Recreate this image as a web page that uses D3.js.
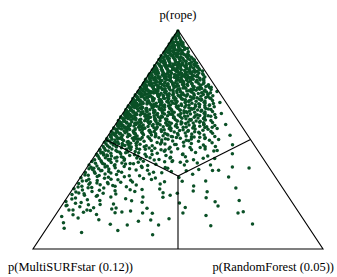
<!DOCTYPE html>
<html>
<head>
<meta charset="utf-8">
<script src="https://cdn.jsdelivr.net/npm/d3@7"></script>
<style>
  body { margin: 0; background: #fff; }
  text { font-family: "Liberation Serif", "DejaVu Serif", serif; font-size: 12.5px; fill: #000; }
</style>
</head>
<body>
<div id="chart"></div>
<script>
var svgWidth = 337;
var svgHeight = 277;

// corner names and probabilities shown in the labels
var ropeName = "p(rope)";
var modelNames = ["MultiSURFstar", "RandomForest"];
var modelProbs = [0.12, 0.05];

// posterior samples as [p(rope), p(RandomForest)]; p(MultiSURFstar) = 1 - both
var samples = [
  [0.995,0.002],[0.988,0.004],[0.982,0.010],[0.976,0.003],[0.971,0.017],[0.968,0.008],[0.962,0.025],[0.958,0.014],[0.955,0.002],[0.952,0.033],[0.979,0.012],[0.964,0.001],
  [0.948,0.004],[0.946,0.021],[0.944,0.040],[0.941,0.011],[0.939,0.030],[0.936,0.002],[0.934,0.050],[0.931,0.018],[0.928,0.037],[0.926,0.007],[0.923,0.058],[0.921,0.026],[0.918,0.045],[0.916,0.013],[0.913,0.003],[0.911,0.067],[0.908,0.034],[0.906,0.020],[0.904,0.052],[0.902,0.008],[0.943,0.028],[0.925,0.016],[0.915,0.075],[0.909,0.042],
  [0.898,0.003],[0.896,0.019],[0.894,0.041],[0.892,0.063],[0.890,0.010],[0.888,0.030],[0.886,0.082],[0.884,0.052],[0.882,0.001],[0.880,0.024],[0.878,0.044],[0.876,0.095],[0.874,0.013],[0.872,0.070],[0.870,0.035],[0.868,0.005],[0.866,0.056],[0.864,0.109],[0.862,0.022],[0.860,0.078],[0.858,0.040],[0.857,0.011],[0.855,0.064],[0.853,0.120],[0.852,0.030],[0.851,0.090],[0.893,0.026],[0.883,0.015],[0.873,0.048],[0.865,0.002],[0.859,0.018],[0.877,0.060],[0.889,0.075],[0.869,0.100],
  [0.849,0.004],[0.848,0.027],[0.846,0.050],[0.845,0.082],[0.843,0.013],[0.842,0.036],[0.840,0.066],[0.838,0.110],[0.837,0.001],[0.835,0.021],[0.834,0.057],[0.832,0.093],[0.830,0.008],[0.829,0.044],[0.827,0.140],[0.826,0.030],[0.824,0.073],[0.822,0.016],[0.821,0.052],[0.819,0.102],[0.817,0.003],[0.816,0.038],[0.814,0.085],[0.812,0.160],[0.811,0.024],[0.809,0.061],[0.808,0.010],[0.806,0.046],[0.805,0.124],[0.803,0.031],[0.802,0.077],[0.801,0.006],[0.844,0.120],[0.836,0.003],[0.828,0.067],[0.818,0.018],[0.813,0.133],[0.807,0.095],[0.833,0.041],[0.823,0.006],[0.815,0.059],[0.804,0.170],
  [0.799,0.002],[0.798,0.025],[0.796,0.048],[0.795,0.071],[0.793,0.014],[0.792,0.100],[0.790,0.036],[0.789,0.058],[0.787,0.006],[0.786,0.130],[0.784,0.029],[0.783,0.083],[0.781,0.017],[0.780,0.045],[0.778,0.160],[0.777,0.066],[0.775,0.001],[0.774,0.035],[0.772,0.112],[0.771,0.054],[0.769,0.020],[0.768,0.090],[0.766,0.008],[0.765,0.042],[0.763,0.185],[0.762,0.074],[0.760,0.027],[0.759,0.140],[0.757,0.003],[0.756,0.060],[0.754,0.033],[0.753,0.105],[0.751,0.012],[0.750,0.050],[0.797,0.090],[0.791,0.003],[0.785,0.046],[0.779,0.012],[0.773,0.075],[0.767,0.022],[0.761,0.004],[0.755,0.088],[0.788,0.170],[0.776,0.200],[0.764,0.125],[0.752,0.155],[0.782,0.062],[0.770,0.038],
  [0.749,0.005],[0.748,0.030],[0.746,0.058],[0.745,0.090],[0.743,0.015],[0.742,0.120],[0.740,0.041],[0.739,0.072],[0.737,0.002],[0.736,0.155],[0.734,0.024],[0.733,0.103],[0.731,0.050],[0.730,0.010],[0.728,0.082],[0.727,0.190],[0.725,0.035],[0.724,0.064],[0.722,0.018],[0.721,0.135],[0.719,0.046],[0.718,0.003],[0.716,0.096],[0.715,0.028],[0.713,0.225],[0.712,0.060],[0.710,0.012],[0.709,0.115],[0.707,0.040],[0.706,0.078],[0.704,0.001],[0.703,0.170],[0.701,0.022],[0.700,0.055],[0.747,0.008],[0.741,0.205],[0.735,0.063],[0.729,0.028],[0.723,0.004],[0.717,0.150],[0.711,0.086],[0.705,0.033],[0.744,0.044],[0.738,0.020],[0.732,0.140],[0.726,0.110],[0.720,0.070],[0.714,0.007],[0.708,0.250],[0.702,0.098],[0.726,0.012],[0.714,0.050],[0.739,0.245],[0.703,0.130],[0.719,0.185],
  [0.699,0.003],[0.698,0.027],[0.696,0.052],[0.695,0.085],[0.693,0.013],[0.692,0.118],[0.690,0.038],[0.689,0.067],[0.687,0.001],[0.686,0.150],[0.684,0.021],[0.683,0.098],[0.681,0.046],[0.680,0.008],[0.678,0.076],[0.677,0.200],[0.675,0.031],[0.674,0.058],[0.672,0.016],[0.671,0.130],[0.669,0.043],[0.668,0.004],[0.666,0.092],[0.665,0.025],[0.663,0.240],[0.662,0.062],[0.660,0.011],[0.659,0.110],[0.657,0.036],[0.656,0.080],[0.654,0.002],[0.653,0.175],[0.651,0.019],[0.650,0.050],[0.697,0.010],[0.691,0.220],[0.685,0.070],[0.679,0.030],[0.673,0.006],[0.667,0.160],[0.661,0.088],[0.655,0.033],[0.694,0.045],[0.688,0.018],[0.682,0.125],[0.676,0.105],[0.670,0.065],[0.664,0.009],[0.658,0.280],[0.652,0.100],[0.676,0.014],[0.664,0.048],[0.689,0.265],[0.653,0.140],[0.669,0.190],[0.681,0.005],[0.657,0.023],[0.695,0.160],
  [0.649,0.004],[0.648,0.029],[0.646,0.055],[0.645,0.088],[0.643,0.014],[0.642,0.122],[0.640,0.040],[0.639,0.070],[0.637,0.002],[0.636,0.160],[0.634,0.023],[0.633,0.101],[0.631,0.048],[0.630,0.009],[0.628,0.079],[0.627,0.215],[0.625,0.033],[0.624,0.061],[0.622,0.017],[0.621,0.137],[0.619,0.045],[0.618,0.005],[0.616,0.094],[0.615,0.027],[0.613,0.260],[0.612,0.064],[0.610,0.012],[0.609,0.113],[0.607,0.038],[0.606,0.083],[0.604,0.001],[0.603,0.185],[0.601,0.020],[0.600,0.052],[0.647,0.011],[0.641,0.235],[0.635,0.073],[0.629,0.031],[0.623,0.007],[0.617,0.170],[0.611,0.090],[0.605,0.035],[0.644,0.047],[0.638,0.019],[0.632,0.128],[0.626,0.107],[0.620,0.067],[0.614,0.010],[0.608,0.300],[0.602,0.104],[0.626,0.015],[0.614,0.051],[0.639,0.285],[0.603,0.145],[0.619,0.200],[0.631,0.006],[0.607,0.024],[0.645,0.175],
  [0.599,0.003],[0.598,0.030],[0.596,0.057],[0.595,0.092],[0.593,0.015],[0.592,0.126],[0.590,0.042],[0.589,0.073],[0.587,0.001],[0.586,0.168],[0.584,0.024],[0.583,0.105],[0.581,0.050],[0.580,0.010],[0.578,0.082],[0.577,0.225],[0.575,0.035],[0.574,0.064],[0.572,0.018],[0.571,0.142],[0.569,0.047],[0.568,0.006],[0.566,0.097],[0.565,0.028],[0.563,0.275],[0.562,0.067],[0.560,0.013],[0.559,0.117],[0.557,0.040],[0.556,0.086],[0.554,0.002],[0.553,0.195],[0.551,0.021],[0.550,0.055],[0.597,0.012],[0.591,0.250],[0.585,0.076],[0.579,0.033],[0.573,0.008],[0.567,0.180],[0.561,0.093],[0.555,0.037],[0.594,0.049],[0.588,0.020],[0.582,0.133],[0.576,0.111],[0.570,0.070],[0.564,0.011],[0.558,0.320],[0.552,0.108],[0.576,0.016],[0.564,0.053],[0.589,0.300],[0.553,0.150],[0.569,0.210],[0.581,0.007],
  [0.549,0.004],[0.548,0.031],[0.546,0.060],[0.545,0.096],[0.543,0.016],[0.542,0.131],[0.540,0.044],[0.539,0.076],[0.537,0.002],[0.536,0.175],[0.534,0.025],[0.533,0.109],[0.531,0.052],[0.530,0.011],[0.528,0.085],[0.527,0.235],[0.525,0.037],[0.524,0.067],[0.522,0.019],[0.521,0.148],[0.519,0.049],[0.518,0.007],[0.516,0.101],[0.515,0.029],[0.513,0.290],[0.512,0.070],[0.510,0.014],[0.509,0.122],[0.507,0.042],[0.506,0.090],[0.504,0.003],[0.503,0.205],[0.501,0.022],[0.500,0.058],[0.547,0.013],[0.541,0.265],[0.535,0.079],[0.529,0.034],[0.523,0.009],[0.517,0.190],[0.511,0.097],[0.505,0.039],[0.544,0.051],[0.538,0.021],[0.532,0.138],[0.526,0.116],[0.520,0.073],[0.514,0.012],[0.508,0.340],[0.502,0.113],[0.526,0.160],[0.514,0.220],
  [0.499,0.005],[0.498,0.034],[0.496,0.064],[0.495,0.100],[0.493,0.018],[0.492,0.137],[0.490,0.047],[0.489,0.080],[0.487,0.003],[0.486,0.185],[0.484,0.027],[0.483,0.114],[0.481,0.055],[0.480,0.012],[0.478,0.089],[0.477,0.250],[0.475,0.039],[0.474,0.071],[0.472,0.021],[0.471,0.155],[0.469,0.052],[0.468,0.008],[0.466,0.106],[0.465,0.031],[0.463,0.310],[0.462,0.074],[0.460,0.016],[0.459,0.128],[0.457,0.044],[0.456,0.094],[0.454,0.004],[0.453,0.215],[0.451,0.024],[0.450,0.061],[0.497,0.280],[0.491,0.083],[0.485,0.036],[0.479,0.200],[0.473,0.120],[0.467,0.360],[0.461,0.170],[0.455,0.140],[0.494,0.010],[0.482,0.067],[0.470,0.097],[0.458,0.240],
  [0.449,0.006],[0.447,0.036],[0.445,0.068],[0.443,0.105],[0.441,0.019],[0.439,0.145],[0.437,0.050],[0.435,0.085],[0.433,0.003],[0.431,0.195],[0.429,0.029],[0.427,0.120],[0.425,0.058],[0.423,0.013],[0.421,0.094],[0.419,0.265],[0.417,0.041],[0.415,0.075],[0.413,0.022],[0.411,0.165],[0.409,0.055],[0.407,0.009],[0.405,0.112],[0.403,0.033],[0.401,0.330],[0.446,0.230],[0.442,0.078],[0.438,0.015],[0.434,0.300],[0.430,0.135],[0.426,0.044],[0.422,0.180],[0.418,0.102],[0.414,0.380],[0.410,0.062],[0.406,0.215],[0.402,0.088],[0.428,0.007],[0.416,0.150],[0.436,0.025],
  [0.399,0.004],[0.397,0.038],[0.395,0.072],[0.393,0.110],[0.391,0.020],[0.389,0.152],[0.387,0.053],[0.385,0.090],[0.383,0.002],[0.381,0.205],[0.379,0.031],[0.377,0.126],[0.375,0.061],[0.373,0.014],[0.371,0.098],[0.369,0.280],[0.367,0.043],[0.365,0.079],[0.363,0.024],[0.361,0.175],[0.359,0.058],[0.357,0.350],[0.355,0.117],[0.353,0.035],[0.351,0.240],[0.396,0.310],[0.390,0.140],[0.384,0.420],[0.378,0.067],[0.372,0.190],[0.366,0.010],[0.360,0.460],[0.354,0.084],[0.398,0.255],
  [0.349,0.006],[0.346,0.041],[0.343,0.077],[0.340,0.118],[0.337,0.022],[0.334,0.165],[0.331,0.056],[0.328,0.096],[0.325,0.003],[0.322,0.220],[0.319,0.033],[0.316,0.135],[0.313,0.065],[0.310,0.015],[0.307,0.300],[0.304,0.105],[0.302,0.046],[0.348,0.270],[0.341,0.380],[0.335,0.200],[0.329,0.510],[0.323,0.085],[0.317,0.250],[0.311,0.440],[0.305,0.150],[0.338,0.010],[0.326,0.340],[0.314,0.180],
  [0.299,0.008],[0.296,0.045],[0.293,0.085],[0.290,0.130],[0.287,0.025],[0.284,0.180],[0.281,0.062],[0.278,0.105],[0.275,0.004],[0.272,0.240],[0.269,0.036],[0.266,0.150],[0.263,0.072],[0.260,0.018],[0.257,0.320],[0.254,0.115],[0.252,0.050],[0.297,0.290],[0.288,0.410],[0.279,0.560],[0.270,0.200],[0.261,0.470],[0.255,0.370],[0.283,0.014],
  [0.249,0.010],[0.245,0.055],[0.241,0.098],[0.237,0.150],[0.233,0.030],[0.229,0.205],[0.225,0.075],[0.221,0.120],[0.217,0.005],[0.213,0.270],[0.209,0.042],[0.205,0.175],[0.202,0.090],[0.246,0.350],[0.234,0.480],[0.222,0.600],[0.210,0.400],[0.238,0.260],
  [0.198,0.015],[0.193,0.065],[0.188,0.115],[0.183,0.180],[0.178,0.035],[0.173,0.250],[0.168,0.090],[0.163,0.330],[0.158,0.140],[0.153,0.520],[0.190,0.430],[0.170,0.640],
  [0.148,0.025],[0.141,0.085],[0.134,0.160],[0.127,0.300],[0.120,0.045],[0.113,0.210],[0.106,0.560],[0.138,0.400],
  [0.095,0.060],[0.085,0.250],[0.075,0.130],[0.065,0.380],
  [0.901,0.085],[0.905,0.062],[0.910,0.054],[0.914,0.031],[0.919,0.064],[0.922,0.041],[0.927,0.050],[0.932,0.033],[0.937,0.015],[0.942,0.046],
  [0.851,0.135],[0.853,0.045],[0.856,0.100],[0.858,0.127],[0.861,0.060],[0.863,0.088],[0.866,0.033],[0.868,0.118],[0.871,0.081],[0.873,0.025],[0.876,0.108],[0.878,0.071],[0.881,0.054],[0.883,0.096],[0.886,0.039],[0.888,0.055],[0.891,0.088],[0.893,0.070],[0.896,0.050],[0.899,0.034],
  [0.800,0.185],[0.802,0.112],[0.803,0.140],[0.805,0.063],[0.807,0.155],[0.808,0.128],[0.810,0.090],[0.812,0.040],[0.813,0.178],[0.815,0.115],[0.817,0.148],[0.818,0.072],[0.820,0.130],[0.822,0.098],[0.824,0.160],[0.825,0.050],[0.827,0.118],[0.829,0.085],[0.831,0.150],[0.832,0.065],[0.834,0.128],[0.836,0.105],[0.838,0.140],[0.839,0.078],[0.841,0.095],[0.843,0.133],[0.845,0.060],[0.846,0.105],[0.848,0.140],[0.849,0.075],
  [0.750,0.230],[0.751,0.140],[0.752,0.088],[0.754,0.195],[0.755,0.120],[0.756,0.170],[0.758,0.075],[0.759,0.210],[0.760,0.100],[0.762,0.155],[0.763,0.058],[0.764,0.180],[0.766,0.135],[0.767,0.110],[0.768,0.205],[0.770,0.145],[0.771,0.085],[0.772,0.190],[0.774,0.125],[0.775,0.165],[0.776,0.070],[0.778,0.140],[0.779,0.105],[0.780,0.185],[0.782,0.120],[0.783,0.150],[0.784,0.095],[0.786,0.175],[0.787,0.065],[0.788,0.140],[0.790,0.118],[0.791,0.160],[0.792,0.078],[0.794,0.135],[0.795,0.190],[0.796,0.115],[0.797,0.150],[0.798,0.060],[0.799,0.125],[0.785,0.200],
  [0.700,0.270],[0.701,0.150],[0.702,0.205],[0.704,0.110],[0.705,0.235],[0.706,0.180],[0.708,0.130],[0.709,0.075],[0.710,0.215],[0.712,0.160],[0.713,0.100],[0.714,0.255],[0.716,0.190],[0.717,0.125],[0.718,0.055],[0.720,0.230],[0.721,0.170],[0.722,0.095],[0.724,0.145],[0.725,0.200],[0.726,0.068],[0.728,0.250],[0.729,0.135],[0.730,0.180],[0.732,0.090],[0.733,0.215],[0.734,0.160],[0.736,0.118],[0.737,0.240],[0.738,0.185],[0.740,0.100],[0.741,0.150],[0.742,0.225],[0.744,0.130],[0.745,0.178],[0.746,0.080],[0.748,0.205],[0.749,0.145],[0.703,0.085],[0.711,0.045],[0.719,0.275],[0.727,0.025],[0.735,0.200],[0.743,0.060],[0.747,0.110],
  [0.650,0.300],[0.651,0.170],[0.652,0.235],[0.654,0.120],[0.655,0.265],[0.656,0.200],[0.658,0.145],[0.659,0.080],[0.660,0.245],[0.662,0.180],[0.663,0.110],[0.664,0.290],[0.666,0.215],[0.667,0.135],[0.668,0.060],[0.670,0.255],[0.671,0.190],[0.672,0.100],[0.674,0.160],[0.675,0.225],[0.676,0.075],[0.678,0.280],[0.679,0.150],[0.680,0.205],[0.682,0.095],[0.683,0.240],[0.684,0.175],[0.686,0.125],[0.687,0.270],[0.688,0.210],[0.690,0.105],[0.691,0.165],[0.692,0.250],[0.694,0.140],[0.695,0.195],[0.696,0.085],[0.698,0.230],[0.699,0.155],[0.653,0.090],[0.661,0.040],[0.669,0.310],[0.677,0.030],[0.685,0.230],[0.693,0.065],[0.697,0.120],[0.657,0.210],[0.665,0.150],[0.673,0.125],[0.681,0.185],[0.689,0.140],
  [0.600,0.330],[0.601,0.185],[0.602,0.255],[0.604,0.130],[0.605,0.290],[0.606,0.220],[0.608,0.160],[0.609,0.085],[0.610,0.270],[0.612,0.195],[0.613,0.120],[0.614,0.320],[0.616,0.235],[0.617,0.145],[0.618,0.065],[0.620,0.280],[0.621,0.210],[0.622,0.105],[0.624,0.175],[0.625,0.245],[0.626,0.080],[0.628,0.305],[0.629,0.165],[0.630,0.225],[0.632,0.100],[0.633,0.265],[0.634,0.190],[0.636,0.135],[0.637,0.295],[0.638,0.230],[0.640,0.115],[0.641,0.180],[0.642,0.275],[0.644,0.150],[0.645,0.215],[0.646,0.090],[0.648,0.250],[0.649,0.170],[0.603,0.095],[0.611,0.045],[0.619,0.340],[0.627,0.032],[0.635,0.250],[0.643,0.070],[0.647,0.130],[0.607,0.230],[0.615,0.165],[0.623,0.135],[0.631,0.205],[0.639,0.155],
  [0.550,0.360],[0.551,0.200],[0.552,0.275],[0.554,0.140],[0.555,0.315],[0.556,0.240],[0.558,0.170],[0.559,0.090],[0.560,0.295],[0.562,0.210],[0.563,0.130],[0.564,0.345],[0.566,0.255],[0.567,0.155],[0.568,0.070],[0.570,0.305],[0.571,0.225],[0.572,0.115],[0.574,0.190],[0.575,0.265],[0.576,0.085],[0.578,0.330],[0.579,0.180],[0.580,0.245],[0.582,0.105],[0.583,0.285],[0.584,0.205],[0.586,0.145],[0.587,0.320],[0.588,0.250],[0.590,0.125],[0.591,0.195],[0.592,0.295],[0.594,0.160],[0.595,0.230],[0.596,0.100],[0.598,0.270],[0.599,0.185],[0.553,0.100],[0.561,0.048],[0.569,0.380],[0.577,0.035],[0.585,0.270],[0.593,0.075],[0.597,0.140],[0.557,0.250],[0.565,0.180],[0.573,0.145],[0.581,0.220],[0.589,0.165],
  [0.500,0.390],[0.501,0.215],[0.502,0.295],[0.504,0.150],[0.505,0.340],[0.506,0.255],[0.508,0.180],[0.509,0.095],[0.510,0.320],[0.512,0.225],[0.513,0.140],[0.514,0.370],[0.516,0.270],[0.517,0.165],[0.518,0.075],[0.520,0.330],[0.521,0.240],[0.522,0.120],[0.524,0.200],[0.525,0.285],[0.526,0.090],[0.528,0.355],[0.529,0.190],[0.530,0.260],[0.532,0.110],[0.533,0.305],[0.534,0.220],[0.536,0.150],[0.537,0.345],[0.538,0.265],[0.540,0.130],[0.541,0.205],[0.542,0.315],[0.544,0.170],[0.545,0.245],[0.546,0.105],[0.548,0.285],[0.549,0.195],[0.503,0.105],[0.511,0.050],[0.519,0.420],[0.527,0.038],[0.535,0.290],[0.543,0.080],[0.547,0.150],
  [0.450,0.410],[0.452,0.230],[0.453,0.320],[0.455,0.160],[0.457,0.365],[0.458,0.270],[0.460,0.190],[0.462,0.100],[0.463,0.345],[0.465,0.240],[0.467,0.150],[0.468,0.395],[0.470,0.285],[0.472,0.175],[0.473,0.080],[0.475,0.350],[0.477,0.255],[0.478,0.130],[0.480,0.215],[0.482,0.305],[0.483,0.095],[0.485,0.375],[0.487,0.200],[0.488,0.275],[0.490,0.115],[0.492,0.325],[0.493,0.235],[0.495,0.160],[0.497,0.360],[0.498,0.195],[0.454,0.110],[0.466,0.055],[0.476,0.450],[0.486,0.042],[0.494,0.290],
  [0.401,0.180],[0.403,0.280],[0.405,0.060],[0.407,0.350],[0.409,0.230],[0.411,0.110],[0.413,0.420],[0.415,0.265],[0.417,0.195],[0.419,0.080],[0.421,0.315],[0.423,0.150],[0.425,0.390],[0.427,0.245],[0.429,0.040],[0.431,0.300],[0.433,0.170],[0.435,0.470],[0.437,0.210],[0.439,0.100],[0.441,0.340],[0.443,0.255],[0.445,0.130],[0.447,0.400],[0.449,0.185],
  [0.351,0.130],[0.354,0.300],[0.357,0.055],[0.360,0.215],[0.363,0.390],[0.366,0.150],[0.369,0.025],[0.372,0.270],[0.375,0.500],[0.378,0.185],[0.381,0.090],[0.384,0.330],[0.387,0.230],[0.390,0.045],[0.393,0.370],[0.396,0.165],[0.399,0.280],[0.358,0.440],[0.370,0.560],[0.388,0.125],
  [0.301,0.070],[0.306,0.190],[0.312,0.028],[0.318,0.110],[0.324,0.260],[0.330,0.150],[0.336,0.060],[0.342,0.230],[0.347,0.095],[0.309,0.360],
  [0.251,0.160],[0.256,0.030],[0.262,0.220],[0.268,0.095],[0.274,0.300],[0.280,0.050],[0.286,0.140],[0.292,0.210],[0.298,0.110],[0.265,0.420],
  [0.203,0.130],[0.212,0.060],[0.220,0.230],[0.228,0.020],[0.236,0.330],[0.244,0.100],[0.216,0.520],
  [0.156,0.060],[0.166,0.200],[0.176,0.110],[0.186,0.300],[0.196,0.540],
  [0.114,0.700],[0.164,0.625],[0.164,0.435],[0.110,0.270],[0.132,0.340],[0.110,0.378],[0.178,0.097],[0.178,0.049],[0.200,0.017],[0.164,0.296],[0.169,0.222],[0.187,0.193],
  [0.903,0.030],[0.907,0.011],[0.912,0.048],[0.917,0.022],[0.924,0.005],[0.929,0.024],[0.935,0.040],[0.940,0.006],[0.945,0.012],[0.949,0.036],
  [0.852,0.075],[0.857,0.098],[0.861,0.038],[0.867,0.072],[0.872,0.008],[0.875,0.028],[0.879,0.090],[0.884,0.035],[0.887,0.012],[0.892,0.044],[0.897,0.066],[0.855,0.015],[0.863,0.125],[0.870,0.052],
  [0.801,0.050],[0.804,0.020],[0.806,0.105],[0.809,0.145],[0.811,0.068],[0.814,0.012],[0.816,0.090],[0.819,0.165],[0.821,0.032],[0.823,0.118],[0.826,0.083],[0.828,0.010],[0.831,0.110],[0.833,0.025],[0.835,0.150],[0.837,0.048],[0.840,0.088],[0.842,0.015],[0.844,0.068],[0.847,0.115],[0.810,0.025],[0.820,0.078],[0.830,0.128],[0.839,0.033],
  [0.751,0.070],[0.753,0.025],[0.755,0.170],[0.757,0.110],[0.758,0.040],[0.761,0.135],[0.763,0.015],[0.765,0.095],[0.767,0.160],[0.769,0.060],[0.771,0.120],[0.773,0.030],[0.775,0.200],[0.777,0.085],[0.779,0.150],[0.781,0.040],[0.783,0.110],[0.785,0.018],[0.787,0.095],[0.789,0.155],[0.791,0.055],[0.793,0.125],[0.795,0.010],[0.797,0.105],[0.754,0.210],[0.762,0.048],[0.770,0.180],[0.778,0.028],[0.786,0.075],[0.794,0.170],
  [0.701,0.080],[0.703,0.030],[0.705,0.160],[0.707,0.115],[0.709,0.200],[0.711,0.018],[0.713,0.140],[0.715,0.065],[0.717,0.240],[0.719,0.100],[0.721,0.035],[0.723,0.175],[0.725,0.120],[0.727,0.058],[0.729,0.210],[0.731,0.085],[0.733,0.015],[0.735,0.150],[0.737,0.100],[0.739,0.045],[0.741,0.185],[0.743,0.125],[0.745,0.020],[0.747,0.160],[0.749,0.090],[0.706,0.250],[0.716,0.010],[0.726,0.230],[0.736,0.070],[0.746,0.230],
  [0.651,0.090],[0.653,0.035],[0.655,0.185],[0.657,0.125],[0.659,0.230],[0.661,0.020],[0.663,0.160],[0.665,0.070],[0.667,0.260],[0.669,0.110],[0.671,0.040],[0.673,0.200],[0.675,0.140],[0.677,0.060],[0.679,0.240],[0.681,0.095],[0.683,0.018],[0.685,0.170],[0.687,0.110],[0.689,0.050],[0.691,0.205],[0.693,0.140],[0.695,0.025],[0.697,0.180],[0.699,0.100],[0.656,0.280],[0.666,0.010],[0.676,0.255],[0.686,0.075],[0.696,0.255],
  [0.601,0.100],[0.603,0.040],[0.605,0.205],[0.607,0.140],[0.609,0.255],[0.611,0.022],[0.613,0.175],[0.615,0.078],[0.617,0.285],[0.619,0.120],[0.621,0.045],[0.623,0.220],[0.625,0.155],[0.627,0.066],[0.629,0.265],[0.631,0.105],[0.633,0.020],[0.635,0.190],[0.637,0.120],[0.639,0.055],[0.641,0.225],[0.643,0.150],[0.645,0.028],[0.647,0.200],[0.649,0.110],[0.606,0.310],[0.616,0.012],[0.626,0.280],[0.636,0.085],[0.646,0.270],
  [0.551,0.110],[0.553,0.045],[0.555,0.220],[0.557,0.150],[0.559,0.275],[0.561,0.025],[0.563,0.190],[0.565,0.085],[0.567,0.305],[0.569,0.130],[0.571,0.050],[0.573,0.240],[0.575,0.170],[0.577,0.072],[0.579,0.285],[0.581,0.115],[0.583,0.022],[0.585,0.205],[0.587,0.130],[0.589,0.060],[0.591,0.245],[0.593,0.165],[0.595,0.030],[0.597,0.215],[0.599,0.120],[0.556,0.340],[0.566,0.014],[0.576,0.300],[0.586,0.092],[0.596,0.290],
  [0.501,0.120],[0.505,0.048],[0.509,0.240],[0.513,0.165],[0.517,0.028],[0.521,0.205],[0.525,0.090],[0.529,0.310],[0.533,0.140],[0.537,0.055],[0.541,0.235],[0.545,0.180],[0.549,0.078],[0.511,0.300],[0.531,0.020],[0.547,0.330]
];

var svg = d3.select("#chart")
  .append("svg")
  .attr("width", svgWidth)
  .attr("height", svgHeight);

// p(rope) goes up, p(RF) - p(MS) goes across
var yScale = d3.scaleLinear().domain([0, 1]).range([249, 30]);
var xScale = d3.scaleLinear().domain([-1, 1]).range([33, 323]);

function toXY(rope, rf) {
  var ms = 1 - rope - rf;
  return [xScale(rf - ms), yScale(rope)];
}

var apex = toXY(1, 0), cornerL = toXY(0, 0), cornerR = toXY(0, 1);
var centre = toXY(1 / 3, 1 / 3);

svg.selectAll("circle")
  .data(samples)
  .enter()
  .append("circle")
  .attr("cx", d => toXY(d[0], d[1])[0])
  .attr("cy", d => toXY(d[0], d[1])[1])
  .attr("r", 1.75)
  .attr("fill", "#0a5026");

svg.append("path")
  .attr("d", d3.line()([apex, cornerL, cornerR, apex]))
  .attr("fill", "none")
  .attr("stroke", "#000")
  .attr("stroke-width", 1.1);

[toXY(0.5, 0), toXY(0.5, 0.5), toXY(0, 0.5)].forEach(function(m) {
  svg.append("line")
    .attr("x1", centre[0]).attr("y1", centre[1])
    .attr("x2", m[0]).attr("y2", m[1])
    .attr("stroke", "#000")
    .attr("stroke-width", 1.1);
});

svg.append("text")
  .attr("x", apex[0])
  .attr("y", 19)
  .attr("text-anchor", "middle")
  .text(ropeName);

svg.append("text")
  .attr("x", 8)
  .attr("y", 271)
  .text(`p(${modelNames[0]} (${modelProbs[0].toFixed(2)}))`);

svg.append("text")
  .attr("x", 334)
  .attr("y", 271)
  .attr("text-anchor", "end")
  .text(`p(${modelNames[1]} (${modelProbs[1].toFixed(2)}))`);
</script>
</body>
</html>
